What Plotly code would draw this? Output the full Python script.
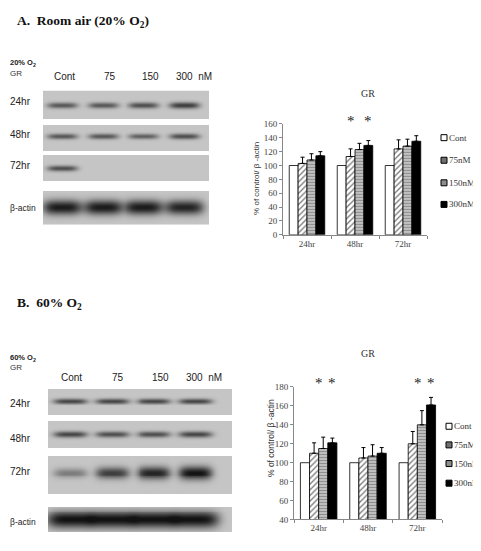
import numpy as np
import plotly.graph_objects as go

# ---------------- data ----------------
times = ["24hr", "48hr", "72hr"]
doses = ["Cont", "75nM", "150nM", "300nM"]
lane_labels = ["Cont", "75", "150", "300  nM"]

# Panel A (20% O2) bar chart
a_cont = [100, 100, 100]
a_75 = [103, 113, 124]
a_150 = [108, 123, 128]
a_300 = [114, 129, 135]
a_err_75 = [9, 11, 13]
a_err_150 = [9, 9, 10]
a_err_300 = [6, 7, 8]
a_stars = [("48hr", "75nM"), ("48hr", "300nM")]

# Panel B (60% O2) bar chart
b_cont = [100, 100, 100]
b_75 = [110, 105, 120]
b_150 = [115, 107, 140]
b_300 = [121, 110, 161]
b_err_75 = [11, 11, 13]
b_err_150 = [12, 12, 15]
b_err_300 = [5, 6, 8]
b_stars = [("24hr", "150nM"), ("24hr", "300nM"), ("72hr", "150nM"), ("72hr", "300nM")]

# Western blot band intensities (0 = none, 1 = darkest)
blot_rows = ["24hr", "48hr", "72hr", "β-actin"]
a_band_24 = [0.60, 0.60, 0.65, 0.75]
a_band_48 = [0.60, 0.60, 0.55, 0.65]
a_band_72 = [0.65, 0.0, 0.0, 0.0]
a_band_actin = [0.95, 0.95, 0.95, 0.90]
b_band_24 = [0.70, 0.70, 0.70, 0.70]
b_band_48 = [0.70, 0.65, 0.65, 0.70]
b_band_72 = [0.40, 0.75, 0.90, 1.00]
b_band_actin = [1.0, 1.0, 1.0, 1.0]

# ---------------- layout helpers ----------------
W, H = 481, 551
OFF = 8  # default page margin of the html body
FW, FH = W - OFF, H - OFF
def fx(p):
    return (p - OFF) / FW
def fy(p):
    return 1 - (p - OFF) / FH

SERIF = "Liberation Serif"
SANS = "Liberation Sans"

fig = go.Figure()

# ---------------- bar charts ----------------
bar_styles = {
    "Cont": dict(color="white", pattern=None),
    "75nM": dict(color="white", pattern=dict(shape="/", fgcolor="black", bgcolor="white", size=4, solidity=0.35)),
    "150nM": dict(color="#9a9a9a", pattern=dict(shape="-", fgcolor="#555555", bgcolor="#c8c8c8", size=3, solidity=0.45)),
    "300nM": dict(color="black", pattern=None),
}
legend_sym = {"Cont": "white", "75nM": "#707070", "150nM": "#8c8c8c", "300nM": "black"}

def add_bars(vals, errs, xa, ya):
    for d, v, e in zip(doses, vals, errs):
        st = bar_styles[d]
        marker = dict(color=st["color"], line=dict(color="black", width=0.8))
        if st["pattern"] is not None:
            marker["pattern"] = st["pattern"]
        kw = {}
        if e is not None:
            kw["error_y"] = dict(type="data", array=e, arrayminus=[0] * len(e), symmetric=False,
                                 color="black", thickness=1, width=2)
        fig.add_trace(go.Bar(x=times, y=v, name=d, marker=marker, xaxis=xa, yaxis=ya,
                             showlegend=False, **kw))

add_bars([a_cont, a_75, a_150, a_300], [None, a_err_75, a_err_150, a_err_300], "x", "y")
add_bars([b_cont, b_75, b_150, b_300], [None, b_err_75, b_err_150, b_err_300], "x2", "y2")

BARGAP = 0.26
bar_w = (1 - BARGAP) / len(doses)
def bar_x(t, d):
    return times.index(t) + (doses.index(d) - (len(doses) - 1) / 2) * bar_w

annotations = []
STAR_Y_A, STAR_Y_B = 118, 385
for t, d in a_stars:
    annotations.append(dict(x=bar_x(t, d), y=fy(STAR_Y_A), xref="x", yref="paper", text="*", showarrow=False,
                            yanchor="middle", font=dict(family=SERIF, size=15, color="#222")))
for t, d in b_stars:
    annotations.append(dict(x=bar_x(t, d), y=fy(STAR_Y_B), xref="x2", yref="paper", text="*", showarrow=False,
                            yanchor="middle", xshift=-4 if d == "150nM" else 0,
                            font=dict(family=SERIF, size=15, color="#222")))

# ---------------- manual legends (small squares + text) ----------------
LEG_A = dict(x=444, ys=[135, 158, 181, 203])
LEG_B = dict(x=449, ys=[429, 448, 467, 487])
for leg in (LEG_A, LEG_B):
    for d, yp in zip(doses, leg["ys"]):
        fig.add_trace(go.Scatter(x=[leg["x"]], y=[yp], mode="markers", xaxis="x5", yaxis="y5",
                                 showlegend=False, hoverinfo="skip",
                                 marker=dict(symbol="square", size=6, color=legend_sym[d],
                                             line=dict(color="black", width=1))))
        annotations.append(dict(x=fx(leg["x"] + 3), y=fy(yp), xref="paper", yref="paper", text=d,
                                showarrow=False, xanchor="left", yanchor="middle",
                                font=dict(family=SERIF, size=9, color="#333")))

# ---------------- western blots (rendered as grey-scale heatmaps) ----------------
BLOT_A = dict(x_px=(43, 209), lane0=62, lane_step=41, y_px=(87, 224),
              panels=[(87, 115), (122, 148), (153, 179), (190, 224)],
              centers=[102, 134, 167, 207], half_h=[3.6, 3.4, 3.4, 7.5], half_w=[0.37, 0.37, 0.37, 0.47])
BLOT_B = dict(x_px=(48, 232), lane0=70, lane_step=42, y_px=(391, 537),
              panels=[(391, 417), (424, 451), (460, 498), (512, 537)],
              centers=[403, 437, 477, 525], half_h=[3.2, 3.6, 7.0, 8.5], half_w=[0.40, 0.40, 0.40, 0.56])

def blot_heatmap(rows, spec, xa, ya):
    x_lo = (spec["x_px"][0] - spec["lane0"]) / spec["lane_step"]
    x_hi = (spec["x_px"][1] - spec["lane0"]) / spec["lane_step"]
    xs = np.arange(x_lo, x_hi + 1e-9, 1 / spec["lane_step"])
    ys = np.arange(spec["y_px"][0], spec["y_px"][1] + 0.5, 1.0)
    z = np.full((len(ys), len(xs)), np.nan)
    for ri, (p0, p1) in enumerate(spec["panels"]):
        inside = (ys >= p0) & (ys <= p1)
        block = np.zeros((inside.sum(), len(xs)))
        dy = ys[inside][:, None] - spec["centers"][ri]
        for li, inten in enumerate(rows[ri]):
            if inten <= 0:
                continue
            hh = spec["half_h"][ri] * (0.55 + 0.45 * inten)
            dx = xs[None, :] - li
            block += inten * np.exp(-(np.abs(dx) / spec["half_w"][ri]) ** 4) * np.exp(-(dy / hh) ** 2)
        z[inside, :] = np.clip(block, 0, 1)
    fig.add_trace(go.Heatmap(x=xs, y=ys, z=z, xaxis=xa, yaxis=ya, zmin=0, zmax=1, showscale=False,
                             hoverinfo="skip",
                             colorscale=[[0, "#c5c5c5"], [0.5, "#6a6a6a"], [1, "#121212"]]))
    return [xs[0] - 0.5 / spec["lane_step"], xs[-1] + 0.5 / spec["lane_step"]]

xr3 = blot_heatmap([a_band_24, a_band_48, a_band_72, a_band_actin], BLOT_A, "x3", "y3")
xr4 = blot_heatmap([b_band_24, b_band_48, b_band_72, b_band_actin], BLOT_B, "x4", "y4")

# ---------------- texts ----------------
def txt(x, y, s, size, family=SANS, color="#222", xanchor="left", bold=False, angle=0):
    if bold:
        s = "<b>" + s + "</b>"
    annotations.append(dict(x=fx(x), y=fy(y), xref="paper", yref="paper", text=s, showarrow=False,
                            xanchor=xanchor, yanchor="middle", textangle=angle,
                            font=dict(family=family, size=size, color=color)))

txt(15, 17, "A.  Room air (20% O<sub>2</sub>)", 13.5, SERIF, "#111", bold=True)
txt(15, 304, "B.  60% O<sub>2</sub>", 13.5, SERIF, "#111", bold=True)

txt(8, 59, "20% O<sub>2</sub>", 7.5, SANS, "#222", bold=True)
txt(8, 70, "GR", 8, SANS, "#333")
txt(8, 359, "60% O<sub>2</sub>", 7.5, SANS, "#222", bold=True)
txt(8, 369, "GR", 8, SANS, "#333")

for lbl, xp in zip(lane_labels, [64, 110, 150, 194]):
    txt(xp, 73, lbl, 10, SANS, "#222", xanchor="center")
for lbl, xp in zip(lane_labels, [71, 118, 160, 204]):
    txt(xp, 379, lbl, 10, SANS, "#222", xanchor="center")

for lbl, yp in zip(blot_rows, [98, 132, 163, 207]):
    txt(8, yp, lbl, 10 if lbl != "β-actin" else 8.5, SANS, "#222")
for lbl, yp in zip(blot_rows, [406, 441, 475, 527]):
    txt(8, yp, lbl, 10 if lbl != "β-actin" else 8.5, SANS, "#222")

txt(368, 90, "GR", 10, SERIF, "#333", xanchor="center")
txt(368, 355, "GR", 10, SERIF, "#333", xanchor="center")
txt(257, 176, "% of control/ β -actin", 8, SANS, "#333", xanchor="center", angle=-90)
txt(271, 441, "% of control/ β -actin", 8.5, SANS, "#333", xanchor="center", angle=-90)

# ---------------- axes ----------------
tickfont = dict(family=SERIF, size=9, color="#444")
xcommon = dict(type="category", showline=True, linecolor="#888", linewidth=1, ticks="outside",
               tickson="boundaries", ticklen=3, tickcolor="#888", tickfont=tickfont, showgrid=False,
               zeroline=False, fixedrange=True)
ycommon = dict(showline=True, linecolor="#888", linewidth=1, ticks="outside", ticklen=3,
               tickcolor="#888", tickfont=tickfont, showgrid=False, zeroline=False, fixedrange=True)
hidden = dict(visible=False, showgrid=False, zeroline=False, fixedrange=True)

fig.update_layout(
    width=FW, height=FH, autosize=False,
    margin=dict(l=0, r=0, t=0, b=0),
    paper_bgcolor="white", plot_bgcolor="rgba(0,0,0,0)",
    barmode="group", bargap=BARGAP, bargroupgap=0,
    showlegend=False,
    xaxis=dict(domain=[fx(283), fx(427)], anchor="y", **xcommon),
    yaxis=dict(domain=[fy(234), fy(121)], anchor="x", range=[0, 160], tick0=0, dtick=20, **ycommon),
    xaxis2=dict(domain=[fx(294), fx(442)], anchor="y2", **xcommon),
    yaxis2=dict(domain=[fy(524), fy(389)], anchor="x2", range=[40, 180], tick0=40, dtick=20, **ycommon),
    xaxis3=dict(domain=[fx(BLOT_A["x_px"][0]), fx(BLOT_A["x_px"][1])], anchor="y3", range=xr3, **hidden),
    yaxis3=dict(domain=[fy(BLOT_A["y_px"][1]), fy(BLOT_A["y_px"][0])], anchor="x3",
                range=[BLOT_A["y_px"][1] + 0.5, BLOT_A["y_px"][0] - 0.5], **hidden),
    xaxis4=dict(domain=[fx(BLOT_B["x_px"][0]), fx(BLOT_B["x_px"][1])], anchor="y4", range=xr4, **hidden),
    yaxis4=dict(domain=[fy(BLOT_B["y_px"][1]), fy(BLOT_B["y_px"][0])], anchor="x4",
                range=[BLOT_B["y_px"][1] + 0.5, BLOT_B["y_px"][0] - 0.5], **hidden),
    xaxis5=dict(domain=[0, 1], anchor="y5", range=[OFF, W], **hidden),
    yaxis5=dict(domain=[0, 1], anchor="x5", range=[H, OFF], **hidden),
    annotations=annotations,
)

fig.write_html("out.html")
